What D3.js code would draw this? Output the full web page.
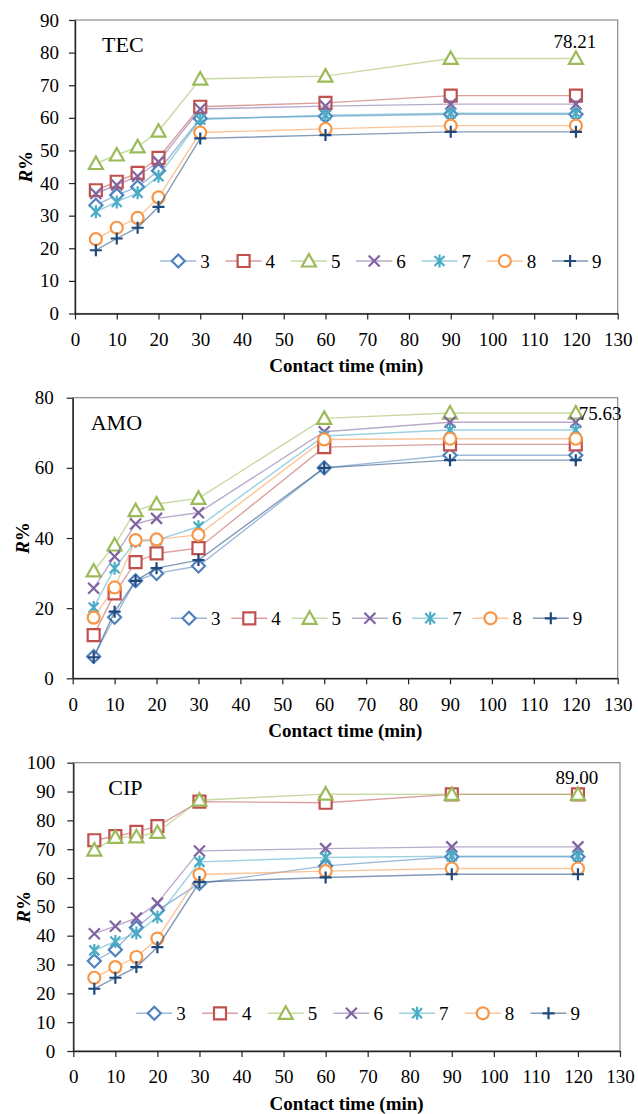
<!DOCTYPE html>
<html>
<head>
<meta charset="utf-8">
<script src="https://cdn.jsdelivr.net/npm/d3@7"></script>
<style>
  body { margin: 0; background: #fff; }
  svg { display: block; font-family: "Liberation Serif", "Times New Roman", serif; }
</style>
</head>
<body>
<svg id="chart" width="638" height="1114"></svg>
<script>
// contact times (min) and pH series
const times = [5, 10, 15, 20, 30, 60, 90, 120];
const seriesNames = ["3", "4", "5", "6", "7", "8", "9"];
const xTicks = [0, 10, 20, 30, 40, 50, 60, 70, 80, 90, 100, 110, 120, 130];

// R% per series (3..9)
const tecR = [
    [33.2, 36.3, 38.8, 43.8, 59.8, 60.5, 61.1, 61.1],
    [37.8, 40.4, 43.1, 47.7, 63.4, 64.6, 66.8, 66.8],
    [46.0, 48.6, 51.1, 55.9, 71.9, 72.8, 78.21, 78.21],
    [36.8, 39.4, 42.1, 46.5, 62.7, 63.6, 64.2, 64.2],
    [31.2, 34.2, 37.0, 42.1, 59.5, 60.8, 61.4, 61.4],
    [22.8, 26.3, 29.3, 35.6, 55.5, 56.6, 57.6, 57.6],
    [19.4, 23.0, 26.3, 32.7, 53.7, 54.7, 55.7, 55.7]
];
const amoR = [
    [6.2, 17.4, 27.8, 29.9, 32.0, 60.0, 63.6, 63.6],
    [12.3, 24.2, 33.1, 35.6, 37.1, 65.9, 66.7, 66.7],
    [30.6, 38.0, 47.8, 49.7, 51.3, 74.1, 75.63, 75.63],
    [25.7, 34.7, 44.0, 45.6, 47.2, 70.3, 73.0, 73.0],
    [20.2, 31.4, 39.0, 39.4, 43.2, 69.1, 70.8, 70.8],
    [17.3, 25.9, 39.4, 39.6, 40.9, 68.1, 68.3, 68.3],
    [6.0, 19.0, 27.8, 31.4, 33.7, 60.0, 62.2, 62.2]
];
const cipR = [
    [31.2, 35.1, 42.8, 48.8, 58.1, 64.2, 67.4, 67.4],
    [73.1, 74.5, 76.0, 78.0, 86.5, 86.1, 89.0, 89.0],
    [69.7, 74.1, 74.3, 75.8, 87.0, 89.1, 89.0, 89.0],
    [40.7, 43.3, 46.1, 51.3, 69.4, 70.2, 70.8, 70.8],
    [34.9, 38.0, 40.9, 46.5, 65.6, 67.1, 67.6, 67.6],
    [25.4, 29.1, 32.6, 39.0, 61.2, 62.4, 63.3, 63.3],
    [21.6, 25.4, 29.1, 36.0, 58.6, 60.2, 61.3, 61.3]
];

const colors = ["#4F81BD", "#C0504D", "#9BBB59", "#8064A2", "#4BACC6", "#F79646", "#1F497D"];
const shapes = ["diamond", "square", "triangle", "x", "star", "circle", "plus"];

// panel layout
const panels = [
    { name: "TEC", data: tecR, yMax: 90, yStep: 10, left: 75, right: 617.7, top: 20, bottom: 313.5,
      labelDx: 27, yPad: 10, legendX: 178.3, legendStep: 65.3, legendY: 261, note: "above" },
    { name: "AMO", data: amoR, yMax: 80, yStep: 20, left: 72.7, right: 617.7, top: 397.7, bottom: 678.3,
      labelDx: 18, yPad: 13, legendX: 189, legendStep: 60.3, legendY: 618.3, note: "right" },
    { name: "CIP", data: cipR, yMax: 100, yStep: 10, left: 73.3, right: 620, top: 762.7, bottom: 1051,
      labelDx: 35, yPad: 12, legendX: 154.3, legendStep: 65.7, legendY: 1013.3, note: "above" }
];

const svg = d3.select("#chart");

function markerPath(type) {
    switch (type) {
        case "diamond": return "M0,-6.5L6.5,0L0,6.5L-6.5,0Z";
        case "square": return "M-6,-6H6V6H-6Z";
        case "triangle": return "M0,-7L7,5.5L-7,5.5Z";
        case "x": return "M-5.5,-5.5L5.5,5.5M-5.5,5.5L5.5,-5.5";
        case "star": return "M-5,-5L5,5M-5,5L5,-5M0,-6.5L0,6.5";
        case "circle": return "M6,0A6,6 0 1,1 -6,0A6,6 0 1,1 6,0Z";
        case "plus": return "M-6,0H6M0,-6V6";
    }
}

function drawMarker(sel, i) {
    sel.append("path")
        .attr("d", markerPath(shapes[i]))
        .attr("fill", ["x", "star", "plus"].includes(shapes[i]) ? "none" : "#fff")
        .attr("stroke", colors[i])
        .attr("stroke-width", 2.2);
}

panels.forEach(p => {
    const x = d3.scaleLinear().domain([0, 130]).range([p.left, p.right]);
    const y = d3.scaleLinear().domain([0, p.yMax]).range([p.bottom, p.top]);
    const g = svg.append("g");

    // plot frame
    g.append("rect")
        .attr("x", p.left).attr("y", p.top)
        .attr("width", p.right - p.left).attr("height", p.bottom - p.top)
        .attr("fill", "none").attr("stroke", "#8a8a8a").attr("stroke-width", 1.2);

    // axes
    const xAxis = g.append("g")
        .attr("transform", `translate(0,${p.bottom})`)
        .call(d3.axisBottom(x).tickValues(xTicks).tickSize(6).tickPadding(13).tickSizeOuter(0));
    const yAxis = g.append("g")
        .attr("transform", `translate(${p.left},0)`)
        .call(d3.axisLeft(y).tickValues(d3.range(0, p.yMax + 1, p.yStep)).tickSize(6).tickPadding(p.yPad).tickSizeOuter(0));
    [xAxis, yAxis].forEach(a => {
        a.select(".domain").attr("stroke", "#222").attr("stroke-width", 1.4);
        a.selectAll(".tick line").attr("stroke", "#222").attr("stroke-width", 1.2);
        a.selectAll("text").attr("font-size", 19).attr("fill", "#000")
            .attr("font-family", "Liberation Serif, Times New Roman, serif");
    });

    // series lines and markers
    p.data.forEach((vals, i) => {
        const pts = times.map((t, j) => [t, vals[j]]);
        g.append("path")
            .datum(pts)
            .attr("fill", "none")
            .attr("stroke", colors[i])
            .attr("stroke-opacity", 0.55)
            .attr("stroke-width", 1.4)
            .attr("d", d3.line().x(d => x(d[0])).y(d => y(d[1])));
        g.append("g").selectAll("g")
            .data(pts)
            .enter()
            .append("g")
            .attr("transform", d => `translate(${x(d[0])},${y(d[1])})`)
            .each(function () { drawMarker(d3.select(this), i); });
    });

    // value label on series "5" at 120 min
    const v = p.data[2][7];
    const note = g.append("text")
        .attr("font-size", 19)
        .text(d3.format(".2f")(v));
    if (p.note === "above") {
        note.attr("x", x(120) - 1).attr("y", y(v) - 10.5).attr("text-anchor", "middle");
    } else {
        note.attr("x", x(120) + 3).attr("y", y(v) + 6.5).attr("text-anchor", "start");
    }

    // panel name
    g.append("text")
        .attr("x", p.left + p.labelDx)
        .attr("y", p.top + 32)
        .attr("font-size", 22)
        .text(p.name);

    // legend
    seriesNames.forEach((s, i) => {
        const lx = p.legendX + i * p.legendStep;
        const lg = g.append("g").attr("transform", `translate(${lx},${p.legendY})`);
        lg.append("line")
            .attr("x1", -18).attr("x2", 18)
            .attr("stroke", colors[i]).attr("stroke-opacity", 0.55).attr("stroke-width", 1.4);
        drawMarker(lg, i);
        lg.append("text")
            .attr("x", 22).attr("y", 6.5)
            .attr("font-size", 19)
            .text(s);
    });

    // axis titles
    g.append("text")
        .attr("x", (p.left + p.right) / 2)
        .attr("y", p.bottom + 58.5)
        .attr("text-anchor", "middle")
        .attr("font-size", 19)
        .attr("font-weight", "bold")
        .text("Contact time (min)");

    const yl = g.append("text")
        .attr("transform", `translate(${p.left - 50},${(p.top + p.bottom) / 2}) rotate(-90)`)
        .attr("dy", "0.35em")
        .attr("text-anchor", "middle")
        .attr("font-size", 19)
        .attr("font-weight", "bold");
    yl.append("tspan").attr("font-style", "italic").text("R");
    yl.append("tspan").text("%");
});
</script>
</body>
</html>
